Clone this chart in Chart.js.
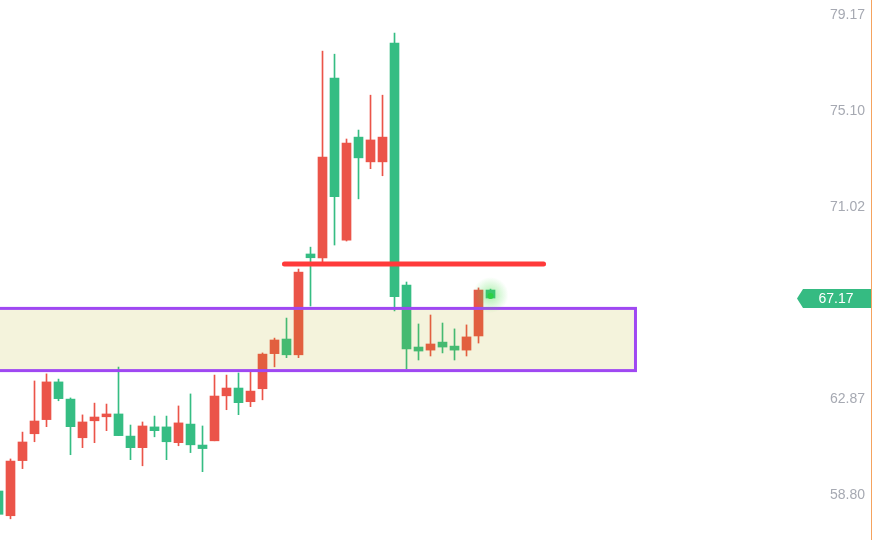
<!DOCTYPE html>
<html>
<head>
<meta charset="utf-8">
<script src="https://cdn.jsdelivr.net/npm/chart.js@4.4.1/dist/chart.umd.min.js"></script>
<style>
  html, body { margin: 0; padding: 0; background: #ffffff; }
  #wrap { width: 874px; height: 540px; position: relative; }
</style>
</head>
<body>
<div id="wrap"><canvas id="priceChart"></canvas></div>
<script>
// Candle values (one entry per candle, left to right)
const opens  = [57.98, 60.24, 61.05, 61.94, 63.60, 62.89, 61.70, 61.90, 62.11, 62.24,
                61.32, 60.81, 61.73, 61.53, 61.06, 61.86, 60.93, 60.77, 63.00, 63.34,
                62.72, 63.21, 64.78, 65.38, 64.75, 68.26, 68.87, 73.14, 71.46, 73.74,
                73.11, 73.87, 73.99, 67.22, 65.00, 64.91, 65.21, 65.08, 64.95, 65.51,
                67.50, 67.16];
const highs  = [59.01, 60.33, 61.47, 63.64, 63.94, 63.72, 62.92, 62.20, 62.70, 62.66,
                64.23, 61.77, 61.90, 62.15, 62.15, 62.58, 63.09, 61.73, 63.89, 63.89,
                63.98, 64.06, 64.83, 65.46, 66.31, 68.39, 69.32, 77.64, 77.51, 73.91,
                74.29, 75.77, 75.77, 78.41, 67.84, 66.06, 66.44, 66.10, 65.85, 66.02,
                67.59, 67.54];
const lows   = [57.95, 57.79, 59.92, 61.06, 61.70, 62.80, 60.51, 60.81, 61.02, 61.53,
                61.32, 60.30, 60.04, 61.27, 60.30, 60.89, 60.60, 59.79, 61.10, 62.42,
                62.21, 62.55, 62.84, 64.24, 64.63, 64.63, 66.82, 68.69, 69.41, 69.58,
                71.37, 72.65, 72.35, 66.61, 64.15, 64.53, 64.70, 64.83, 64.53, 64.70,
                65.25, 67.16];
const closes = [58.97, 57.92, 60.26, 61.40, 62.00, 63.60, 62.87, 61.23, 61.95, 62.12,
                62.24, 61.30, 60.81, 61.69, 61.69, 61.02, 61.81, 60.92, 61.10, 63.01,
                63.34, 62.76, 63.31, 64.80, 65.42, 64.75, 69.03, 68.86, 76.50, 69.62,
                73.99, 72.94, 72.94, 77.98, 67.71, 65.08, 64.95, 65.29, 65.12, 64.95,
                65.55, 67.50];

const tickValues = [58.80, 62.87, 71.02, 75.10, 79.17];
const lastPrice = 67.17;

// drawn levels (price units / candle index units)
const zoneTop = 66.72, zoneBottom = 64.08, zoneStart = -1, zoneEnd = 53.08;
const resistance = 68.60, resStart = 23.83, resEnd = 45.42;

const UP = '#35bd83', DOWN = '#eb5449';
const colors = opens.map((o, i) => closes[i] >= o ? UP : DOWN);

const overlays = {
  id: 'overlays',
  afterDatasetsDraw(chart) {
    const ctx = chart.ctx, x = chart.scales.x, y = chart.scales.y;
    ctx.save();

    // support zone (tinted fill sits over the candles)
    const zx1 = x.getPixelForValue(zoneStart), zx2 = x.getPixelForValue(zoneEnd);
    const zy1 = y.getPixelForValue(zoneTop), zy2 = y.getPixelForValue(zoneBottom);
    ctx.fillStyle = 'rgba(175, 168, 0, 0.137)';
    ctx.fillRect(zx1, zy1, zx2 - zx1, zy2 - zy1);
    ctx.strokeStyle = '#9f48f2';
    ctx.lineWidth = 3;
    ctx.strokeRect(zx1, zy1, zx2 - zx1, zy2 - zy1);

    // resistance line
    const ry = y.getPixelForValue(resistance);
    ctx.strokeStyle = '#ff3a3a';
    ctx.lineWidth = 5;
    ctx.lineCap = 'round';
    ctx.beginPath();
    ctx.moveTo(x.getPixelForValue(resStart), ry);
    ctx.lineTo(x.getPixelForValue(resEnd), ry);
    ctx.stroke();

    // live dot glow on last candle
    const last = opens.length - 1;
    const gx = x.getPixelForValue(last), gy = y.getPixelForValue((opens[last] + closes[last]) / 2) + 1;
    const g = ctx.createRadialGradient(gx, gy, 0, gx, gy, 18);
    g.addColorStop(0, 'rgba(70, 220, 70, 0.45)');
    g.addColorStop(1, 'rgba(70, 220, 70, 0)');
    ctx.fillStyle = g;
    ctx.beginPath();
    ctx.arc(gx, gy, 18, 0, Math.PI * 2);
    ctx.fill();
    ctx.fillStyle = '#2ed045';
    ctx.beginPath();
    ctx.arc(gx, gy + 1, 3, 0, Math.PI * 2);
    ctx.fill();

    // last price tag
    const py = Math.round(y.getPixelForValue(lastPrice)) + 0.5;
    ctx.fillStyle = '#35bb82';
    ctx.beginPath();
    ctx.moveTo(797, py);
    ctx.lineTo(803, py - 9.5);
    ctx.lineTo(871, py - 9.5);
    ctx.lineTo(871, py + 9.5);
    ctx.lineTo(803, py + 9.5);
    ctx.closePath();
    ctx.fill();
    ctx.fillStyle = '#ffffff';
    ctx.font = '14px "Liberation Sans", Arial, sans-serif';
    ctx.textAlign = 'center';
    ctx.textBaseline = 'middle';
    ctx.fillText(lastPrice.toFixed(2), 836, py + 0.5);

    // right border
    ctx.strokeStyle = '#f5a35e';
    ctx.lineWidth = 1;
    ctx.beginPath();
    ctx.moveTo(871.5, 0);
    ctx.lineTo(871.5, chart.height);
    ctx.stroke();

    ctx.restore();
  }
};

new Chart(document.getElementById('priceChart'), {
  type: 'bar',
  data: {
    datasets: [{
      label: 'wicks',
      data: opens.map((o, i) => ({ x: i, y: [lows[i], highs[i]] })),
      backgroundColor: colors,
      barThickness: 1,
      stack: 'candle',
      order: 2
    }, {
      label: 'bodies',
      data: opens.map((o, i) => ({ x: i, y: [o, closes[i]] })),
      backgroundColor: colors,
      barThickness: 9,
      stack: 'candle',
      order: 1
    }]
  },
  options: {
    responsive: true,
    maintainAspectRatio: false,
    animation: false,
    layout: { padding: 0 },
    plugins: {
      legend: { display: false },
      tooltip: { enabled: false }
    },
    scales: {
      x: {
        type: 'linear',
        display: false,
        offset: false,
        min: 0.125,
        max: 66.79
      },
      y: {
        position: 'right',
        stacked: false,
        min: 56.89,
        max: 79.81,
        grid: { display: false, drawTicks: false },
        border: { display: false },
        afterBuildTicks: (axis) => { axis.ticks = tickValues.map(v => ({ value: v })); },
        afterFit: (axis) => { axis.width = 74; axis.paddingTop = 0; axis.paddingBottom = 0; },
        ticks: {
          padding: 30,
          color: '#a6a9b2',
          font: { family: '"Liberation Sans", Arial, sans-serif', size: 14 },
          callback: (v) => Number(v).toFixed(2)
        }
      }
    }
  },
  plugins: [overlays]
});
</script>
</body>
</html>
